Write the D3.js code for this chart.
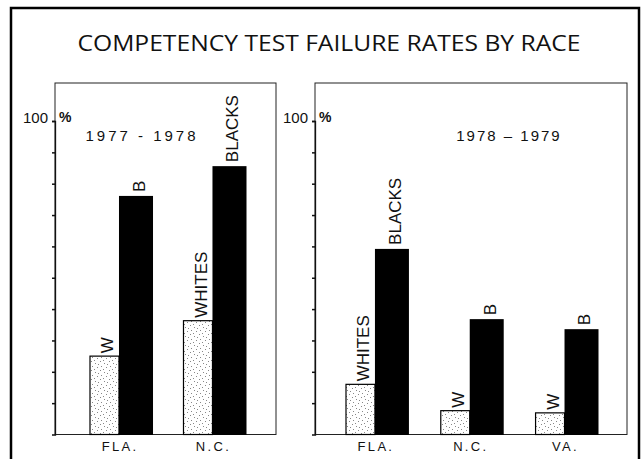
<!DOCTYPE html>
<html>
<head>
<meta charset="utf-8">
<script src="https://cdn.jsdelivr.net/npm/d3@7"></script>
<style>
  html, body { margin: 0; padding: 0; background: #fff; }
  svg { display: block; }
  text { font-family: "Liberation Sans", Arial, Helvetica, sans-serif; fill: #111; }
</style>
</head>
<body>
<script>
// ---- data ----
const title = "COMPETENCY TEST FAILURE RATES BY RACE";
const period1 = "1977  -  1978";
const states1 = ["FLA.", "N.C."];
const whites1 = [25, 36.3];
const blacks1 = [76.1, 85.6];
const whiteLabels1 = ["W", "WHITES"];
const blackLabels1 = ["B", "BLACKS"];

const period2 = "1978 – 1979";
const states2 = ["FLA.", "N.C.", "VA."];
const whites2 = [16, 7.6, 6.9];
const blacks2 = [59.2, 36.8, 33.6];
const whiteLabels2 = ["WHITES", "W", "W"];
const blackLabels2 = ["BLACKS", "B", "B"];

const tickValues = [10, 20, 30, 40, 50, 60, 70, 80, 90, 100];
const topTickLabel = "100";
const unitLabel = "%";

// ---- drawing ----
const W = 643, H = 459;
const svg = d3.select("body").append("svg").attr("width", W).attr("height", H);

// stipple pattern for white bars
const defs = svg.append("defs");
const pat = defs.append("pattern").attr("id", "stip").attr("patternUnits", "userSpaceOnUse")
  .attr("width", 9).attr("height", 9);
pat.append("rect").attr("width", 9).attr("height", 9).attr("fill", "#fff");
[[1,1],[5,3],[2,6],[7,7],[4,0],[8,4]].forEach(p => {
  pat.append("rect").attr("x", p[0]).attr("y", p[1]).attr("width", 1).attr("height", 1).attr("fill", "#888");
});

// outer frame
svg.append("rect").attr("x", 11).attr("y", 8).attr("width", 628).attr("height", 480)
  .attr("fill", "none").attr("stroke", "#000").attr("stroke-width", 2.5);

svg.append("text").attr("x", 329).attr("y", 51).attr("text-anchor", "middle")
  .attr("font-size", 22).attr("textLength", 503).attr("lengthAdjust", "spacingAndGlyphs")
  .style("font-family", "'Open Sans', 'Liberation Sans', sans-serif")
  .text(title);

const y = d3.scaleLinear().domain([0, 100]).range([434.5, 121]);

function panel(cfg) {
  const g = svg.append("g");
  // box
  g.append("rect").attr("x", cfg.x0).attr("y", 83).attr("width", cfg.x1 - cfg.x0).attr("height", y(0) - 83)
    .attr("fill", "none").attr("stroke", "#222").attr("stroke-width", 1);
  // axis
  const ax = g.append("g").attr("transform", `translate(${cfg.x0},0)`)
    .call(d3.axisLeft(y).tickValues(tickValues).tickSize(3).tickFormat(""));
  ax.select(".domain").attr("stroke", "#111").attr("stroke-width", 1.3);
  ax.selectAll(".tick line").attr("stroke", "#111").attr("stroke-width", 1.5);
  g.append("text").attr("x", cfg.x0 - 7).attr("y", y(100) + 2).attr("text-anchor", "end")
    .attr("font-size", 15).text(topTickLabel);
  g.append("text").attr("x", cfg.x0 + 4).attr("y", y(100) + 1).attr("font-size", 14)
    .attr("font-weight", "bold").text(unitLabel);
  // period
  g.append("text").attr("x", cfg.px).attr("y", 141).attr("text-anchor", "middle")
    .attr("font-size", 15).attr("letter-spacing", cfg.ls).text(cfg.period);

  const x = d3.scaleBand().domain(cfg.states).range(cfg.range).paddingInner(cfg.pad);
  const wFrac = 0.46;
  const bw = x.bandwidth();

  cfg.states.forEach((s, i) => {
    const xw = x(s), xb = x(s) + bw * wFrac, xe = x(s) + bw;
    // white bar
    g.append("rect").attr("x", xw).attr("y", y(cfg.whites[i])).attr("width", xb - xw)
      .attr("height", y(0) - y(cfg.whites[i]))
      .attr("fill", "url(#stip)").attr("stroke", "#000").attr("stroke-width", 1.2);
    // black bar
    g.append("rect").attr("x", xb).attr("y", y(cfg.blacks[i])).attr("width", xe - xb)
      .attr("height", y(0) - y(cfg.blacks[i]) + 0.5).attr("fill", "#000");
    // labels
    const lw = (xw + xb) / 2 + 3, lb = (xb + xe) / 2 + 3;
    g.append("text").attr("transform", `translate(${lw},${y(cfg.whites[i]) - 3}) rotate(-90)`)
      .attr("dy", "0.35em").attr("font-size", 17).text(cfg.wl[i]);
    g.append("text").attr("transform", `translate(${lb},${y(cfg.blacks[i]) - 4}) rotate(-90)`)
      .attr("dy", "0.35em").attr("font-size", 17).text(cfg.bl[i]);
    // state label
    g.append("text").attr("x", xb + 1).attr("y", 451).attr("text-anchor", "middle")
      .attr("font-size", 13).attr("letter-spacing", 2.3).text(s);
  });
}

panel({ x0: 55, x1: 276, states: states1, whites: whites1, blacks: blacks1,
  wl: whiteLabels1, bl: blackLabels1, range: [90, 246.5], pad: 0.326,
  period: period1, px: 142, ls: 3 });
panel({ x0: 315, x1: 627, states: states2, whites: whites2, blacks: blacks2,
  wl: whiteLabels2, bl: blackLabels2, range: [346, 598.5], pad: 0.336,
  period: period2, px: 509, ls: 2 });
</script>
</body>
</html>
